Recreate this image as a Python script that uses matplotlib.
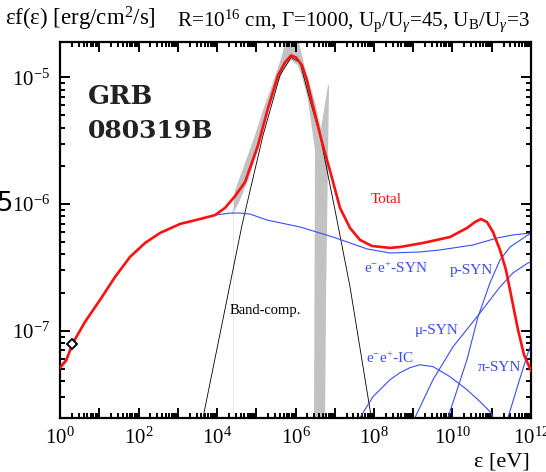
import numpy as np
import matplotlib
matplotlib.use("Agg")
import matplotlib.pyplot as plt
from matplotlib.ticker import FixedLocator, LogLocator, NullFormatter, FuncFormatter

plt.rcParams['font.family'] = 'Liberation Serif'
plt.rcParams['mathtext.fontset'] = 'custom'
plt.rcParams['mathtext.rm'] = 'Liberation Serif'
plt.rcParams['mathtext.it'] = 'Liberation Serif:italic'
plt.rcParams['mathtext.bf'] = 'Liberation Serif:bold'

# log10 of photon energy [eV] and log10 of eF(e) [erg/cm^2/s] for each component
total_logE = [0.0, 0.153, 0.331, 0.637, 1.019, 1.401, 1.783, 2.166, 2.548, 3.057,
              3.567, 3.949, 4.204, 4.459, 4.713, 5.045, 5.299, 5.554, 5.732, 5.885,
              6.013, 6.166, 6.293, 6.420, 6.675, 6.930, 7.134, 7.389, 7.643, 7.949,
              8.408, 8.662, 9.248, 9.936, 10.369, 10.573, 10.726, 10.879, 11.032,
              11.210, 11.363, 11.516, 11.669, 11.822, 12.0]
total_logF = [-7.291, -7.236, -7.094, -6.929, -6.756, -6.575, -6.417, -6.307, -6.228, -6.157,
              -6.118, -6.087, -6.030, -5.937, -5.827, -5.535, -5.244, -4.984, -4.882, -4.827,
              -4.843, -4.906, -5.024, -5.197, -5.512, -5.795, -6.031, -6.189, -6.283, -6.331,
              -6.346, -6.339, -6.307, -6.260, -6.189, -6.142, -6.118, -6.142, -6.220,
              -6.362, -6.520, -6.756, -6.992, -7.189, -7.315]

esyn_logE = [0.0, 0.153, 0.331, 0.637, 1.019, 1.401, 1.783, 2.166, 2.548, 3.057,
             3.567, 3.949, 4.330, 4.586, 4.841, 5.274, 6.115, 6.955, 7.822, 8.408,
             9.172, 9.682, 10.522, 11.134, 11.541, 12.0]
esyn_logF = [-7.280, -7.225, -7.094, -6.929, -6.756, -6.575, -6.417, -6.307, -6.228, -6.157,
             -6.118, -6.087, -6.071, -6.071, -6.079, -6.126, -6.181, -6.260, -6.354, -6.386,
             -6.378, -6.362, -6.323, -6.268, -6.244, -6.228]

psyn_logE = [9.885, 10.369, 10.650, 10.955, 11.210, 11.465, 12.0]
psyn_logF = [-7.685, -7.228, -6.890, -6.622, -6.441, -6.339, -6.228]

musyn_logE = [9.045, 9.503, 10.013, 10.624, 11.210, 11.541, 11.924, 12.0]
musyn_logF = [-7.685, -7.386, -7.126, -6.890, -6.654, -6.543, -6.465, -6.457]

pisyn_logE = [11.414, 11.669, 11.924, 12.0]
pisyn_logF = [-7.685, -7.425, -7.173, -7.110]

eic_logE = [7.643, 7.975, 8.408, 8.662, 8.917, 9.172, 9.503, 9.936, 10.369, 10.701, 10.981, 11.032]
eic_logF = [-7.685, -7.520, -7.386, -7.331, -7.291, -7.268, -7.283, -7.362, -7.465, -7.559, -7.646, -7.685]

band_logE = [3.643, 4.153, 4.637, 5.172, 5.605, 5.885, 6.115, 6.369, 6.624, 7.006, 7.389, 7.898, 7.924]
band_logF = [-7.685, -6.906, -6.165, -5.457, -4.984, -4.843, -4.882, -5.181, -5.457, -6.047, -6.654, -7.622, -7.685]

# observed spectral range: band around the peak plus the high-energy strip
obs_logE = [4.459, 4.713, 4.968, 5.172, 5.401, 5.656, 5.758, 6.064, 6.242, 6.369,
            6.497, 6.599, 6.650, 6.828, 6.854, 6.777, 6.752, 6.471, 6.497, 6.318,
            6.191, 6.064, 5.885, 5.707, 5.529, 5.299, 5.045, 4.790, 4.586, 4.433,
            4.382]
obs_logF = [-5.890, -5.677, -5.457, -5.260, -5.063, -4.827, -4.693, -4.693, -4.929, -5.063,
            -5.197, -5.339, -5.402, -5.063, -5.063, -6.756, -7.740, -7.740, -5.575, -5.181,
            -5.024, -4.906, -4.866, -4.929, -5.063, -5.276, -5.575, -5.811, -5.969, -6.063,
            -6.087]

optical_E = [2.0]
optical_F = [7.8e-8]


def lin(a):
    return 10.0 ** np.asarray(a)


fig = plt.figure(figsize=(5.46, 4.72), dpi=100)
ax = fig.add_axes([0.110, 0.1144, 0.8625, 0.7966])

ax.fill(lin(obs_logE), lin(obs_logF), color='#c2c2c2', lw=0, zorder=1)
ax.plot([2.56e4, 2.56e4], [2e-8, 1.0e-6], color='#e6e6e6', lw=0.6, zorder=1)

blue = '#3a4cff'
ax.plot(lin(band_logE), lin(band_logF), color='black', lw=0.6, zorder=2)
ax.plot(lin(esyn_logE), lin(esyn_logF), color=blue, lw=0.8, zorder=2)
ax.plot(lin(psyn_logE), lin(psyn_logF), color=blue, lw=0.8, zorder=2)
ax.plot(lin(musyn_logE), lin(musyn_logF), color=blue, lw=0.8, zorder=2)
ax.plot(lin(pisyn_logE), lin(pisyn_logF), color=blue, lw=0.8, zorder=2)
ax.plot(lin(eic_logE), lin(eic_logF), color=blue, lw=0.8, zorder=2)
ax.plot(lin(total_logE), lin(total_logF), color='#ff1010', lw=1.9, zorder=3)
ax.plot(optical_E, optical_F, ls='none', marker='D', ms=5.5, mfc='white', mec='black', mew=1.4, zorder=4)

ax.set_xscale('log')
ax.set_yscale('log')
ax.set_xlim(1, 1e12)
ax.set_ylim(2.05e-8, 1.9e-5)

ax.xaxis.set_major_locator(FixedLocator([10.0 ** k for k in range(13)]))
ax.xaxis.set_major_formatter(FuncFormatter(
    lambda v, p: r'10$^{%d}$' % round(np.log10(v)) if round(np.log10(v)) % 2 == 0 else ''))
ax.xaxis.set_minor_locator(LogLocator(base=10, subs=np.arange(2, 10), numticks=100))
ax.xaxis.set_minor_formatter(NullFormatter())
ax.yaxis.set_major_locator(FixedLocator([1e-7, 1e-6, 1e-5]))
ax.yaxis.set_major_formatter(FuncFormatter(lambda v, p: r'10$^{%d}$' % round(np.log10(v))))
ax.yaxis.set_minor_locator(LogLocator(base=10, subs=np.arange(2, 10), numticks=100))
ax.yaxis.set_minor_formatter(NullFormatter())

ax.tick_params(which='both', direction='in', top=True, right=True, width=1.4)
ax.tick_params(which='major', length=7, labelsize=15, pad=7)
ax.tick_params(which='minor', length=3.5)
for s in ax.spines.values():
    s.set_linewidth(1.6)

# component labels
ax.text(2.0e8, 1.09e-6, 'Total', color='#ff1010', fontsize=11, ha='center', va='center')
ax.text(3.6e8, 3.13e-7, r'e$^{-}$e$^{+}$-SYN', color=blue, fontsize=11, ha='center', va='center')
ax.text(3.0e10, 3.0e-7, 'p-SYN', color=blue, fontsize=11, ha='center', va='center')
ax.text(4.0e9, 1.0e-7, 'μ-SYN', color=blue, fontsize=11, ha='center', va='center')
ax.text(2.6e8, 6.1e-8, r'e$^{-}$e$^{+}$-IC', color=blue, fontsize=11, ha='center', va='center')
ax.text(1.55e11, 5.1e-8, 'π-SYN', color=blue, fontsize=11, ha='center', va='center')
ax.text(1.67e5, 1.44e-7, 'Band-comp.', color='black', fontsize=10.5, ha='center', va='center')

ax.text(0.059, 0.835, 'GRB', transform=ax.transAxes, fontsize=18.5, fontweight='bold',
        family='DejaVu Serif', color='#222222', va='baseline')
ax.text(0.059, 0.745, '080319B', transform=ax.transAxes, fontsize=18, fontweight='bold',
        family='DejaVu Serif', color='#222222', va='baseline')

fig.text(0.009, 0.945, r'εf(ε) [erg/cm$^{2}$/s]', fontsize=16.5, va='baseline')
fig.text(0.971, 0.945, r'R=10$^{16}$ cm, Γ=1000, U$_{\mathrm{p}}$/U$_{\gamma}$=45, U$_{\mathrm{B}}$/U$_{\gamma}$=3',
         fontsize=15.2, va='baseline', ha='right')
fig.text(0.971, 0.012, 'ε [eV]', fontsize=16, va='baseline', ha='right')
fig.text(-0.0065, 0.553, '5', family='DejaVu Sans', fontsize=18.5, va='baseline', ha='left')

fig.savefig('out.png', dpi=100)
